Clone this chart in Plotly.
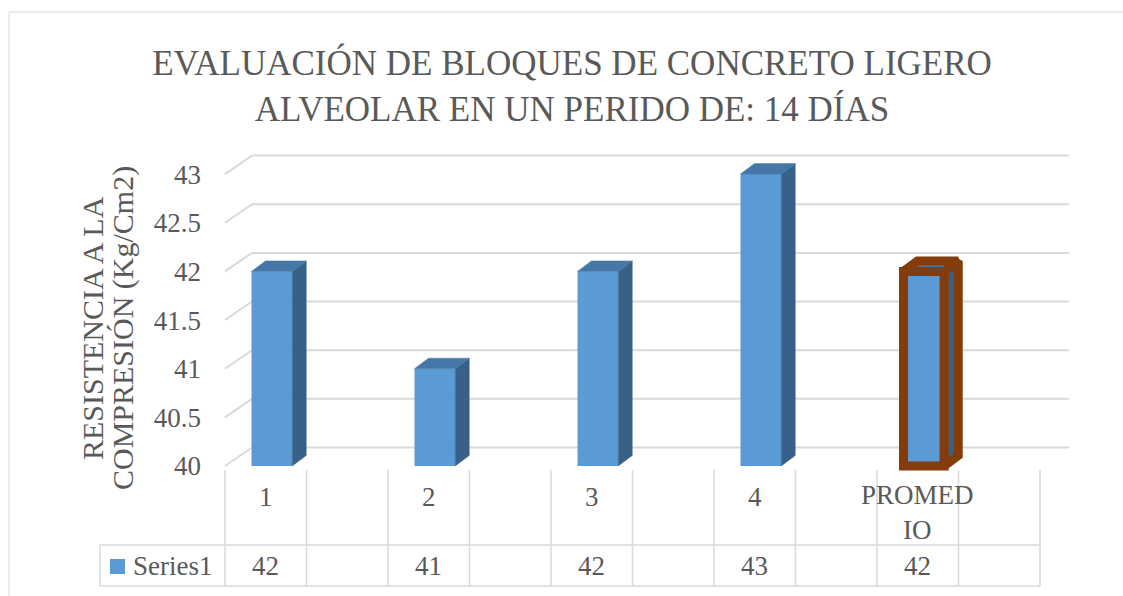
import plotly.graph_objects as go

# ---------------- data ----------------
categories = ["1", "2", "3", "4", "PROMEDIO"]
category_labels = ["1", "2", "3", "4", "PROMED<br>IO"]
values = [42, 41, 42, 43, 42]
series_name = "Series1"
y_ticks = [40, 40.5, 41, 41.5, 42, 42.5, 43]
y_tick_text = ["40", "40.5", "41", "41.5", "42", "42.5", "43"]
title_text = "EVALUACIÓN DE BLOQUES DE CONCRETO LIGERO<br>ALVEOLAR EN UN PERIDO DE: 14 DÍAS"
y_title_lines = ["RESISTENCIA A LA", "COMPRESIÓN (Kg/Cm2)"]

# ---------------- style / geometry ----------------
W, H = 1123, 596
FONT = "Liberation Serif, Times New Roman, serif"
TXT = "#595959"
GRID = "#D9D9D9"
FRONT = "#5B9BD5"
SIDE = "#386189"
TOP = "#4677A9"
BROWN = "#843C0C"

X0_PX, COL_PX = 225, 81.5      # left edge of first table column, column width
Y0_PX, UNIT_PX = 466, 97.3     # pixel of the base value, pixels per unit
DOM_L, DOM_R, DOM_T, DOM_B = 95, 1085, 140, 595
BASE = y_ticks[0]


def u(px):
    return (px - X0_PX) / COL_PX


def v(py):
    return BASE + (Y0_PX - py) / UNIT_PX


def px_x(px):
    return px / W


def px_y(py):
    return 1 - py / H


# 3-D offsets
BACK_DX, BACK_DY = 27 / COL_PX, 18.5 / UNIT_PX
SIDE_DX, SIDE_DY = 14 / COL_PX, 10.5 / UNIT_PX
BAR_W, BAR_OFF = 0.5, -0.175
n_cols = 2 * len(categories)
centers = [2 * i + 0.5 for i in range(len(categories))]

fig = go.Figure()

# front faces
line_w = [0] * (len(values) - 1) + [9]
fig.add_trace(go.Bar(
    x=centers, y=[val - BASE for val in values], base=BASE,
    width=BAR_W, offset=BAR_OFF,
    marker=dict(color=FRONT, line=dict(color=BROWN, width=line_w)),
    showlegend=False, hoverinfo="skip"))

# side and top faces
for i, (c, val) in enumerate(zip(centers, values)):
    x0 = c + BAR_OFF
    x1 = x0 + BAR_W
    lw = line_w[i]
    fig.add_trace(go.Scatter(
        x=[x1, x1 + SIDE_DX, x1 + SIDE_DX, x1, x1],
        y=[BASE, BASE + SIDE_DY, val + SIDE_DY, val, BASE],
        fill="toself", fillcolor=SIDE, mode="lines",
        line=dict(color=BROWN if lw else SIDE, width=lw if lw else 0.5),
        showlegend=False, hoverinfo="skip"))
    fig.add_trace(go.Scatter(
        x=[x0, x0 + SIDE_DX, x1 + SIDE_DX, x1, x0],
        y=[val, val + SIDE_DY, val + SIDE_DY, val, val],
        fill="toself", fillcolor=TOP, mode="lines",
        line=dict(color=BROWN if lw else TOP, width=lw if lw else 0.5),
        showlegend=False, hoverinfo="skip"))

shapes = []
# back-wall gridlines and side-wall diagonals
for t in y_ticks:
    shapes.append(dict(type="line", xref="x", yref="y", layer="below",
                       x0=BACK_DX, x1=u(1069), y0=t + BACK_DY, y1=t + BACK_DY,
                       line=dict(color=GRID, width=2)))
    shapes.append(dict(type="line", xref="x", yref="y", layer="below",
                       x0=0, x1=BACK_DX, y0=t, y1=t + BACK_DY,
                       line=dict(color=GRID, width=2)))

# data table
tbl_top, tbl_mid, tbl_bot = v(470), v(545), v(586)
for k in range(n_cols + 1):
    shapes.append(dict(type="line", xref="x", yref="y",
                       x0=k, x1=k, y0=tbl_top, y1=tbl_bot,
                       line=dict(color=GRID, width=1.5)))
for yy in (tbl_mid, tbl_bot):
    shapes.append(dict(type="line", xref="x", yref="y",
                       x0=u(100), x1=n_cols, y0=yy, y1=yy,
                       line=dict(color=GRID, width=1.5)))
shapes.append(dict(type="line", xref="x", yref="y",
                   x0=u(100), x1=u(100), y0=tbl_mid, y1=tbl_bot,
                   line=dict(color=GRID, width=1.5)))
# legend key
shapes.append(dict(type="rect", xref="x", yref="y",
                   x0=u(110), x1=u(125), y0=v(574), y1=v(559),
                   fillcolor=FRONT, line=dict(width=0)))
# chart border
shapes.append(dict(type="rect", xref="paper", yref="paper",
                   x0=px_x(9), x1=1.02, y0=-0.02, y1=px_y(12),
                   line=dict(color=GRID, width=1)))

annotations = []
for c, lab, val in zip(centers, category_labels, values):
    annotations.append(dict(x=c, y=v(512 if "<br>" in lab else 497), xref="x", yref="y",
                            text=lab, showarrow=False, xanchor="center", yanchor="middle",
                            font=dict(family=FONT, size=27, color=TXT)))
    annotations.append(dict(x=c, y=v(566), xref="x", yref="y",
                            text=f"{val:g}", showarrow=False, xanchor="center", yanchor="middle",
                            font=dict(family=FONT, size=27, color=TXT)))
annotations.append(dict(x=u(131), y=v(566), xref="x", yref="y", text=series_name,
                        showarrow=False, xanchor="left", yanchor="middle",
                        font=dict(family=FONT, size=27, color=TXT)))
for xpx, line in zip((92, 123), y_title_lines):
    annotations.append(dict(x=px_x(xpx), y=px_y(328), xref="paper", yref="paper",
                            text=line, textangle=-90, showarrow=False,
                            xanchor="center", yanchor="middle",
                            font=dict(family=FONT, size=30, color=TXT)))

fig.update_layout(
    width=W, height=H,
    margin=dict(l=0, r=0, t=0, b=0),
    paper_bgcolor="white", plot_bgcolor="rgba(0,0,0,0)",
    title=dict(text=title_text, x=px_x(572), xanchor="center", y=px_y(75), yanchor="middle",
               font=dict(family=FONT, size=35, color=TXT)),
    xaxis=dict(domain=[px_x(DOM_L), px_x(DOM_R)], range=[u(DOM_L), u(DOM_R)],
               visible=False, fixedrange=True),
    yaxis=dict(domain=[px_y(DOM_B), px_y(DOM_T)], range=[v(DOM_B), v(DOM_T)],
               anchor="free", position=px_x(223),
               tickvals=y_ticks, ticktext=y_tick_text, showgrid=False, zeroline=False,
               showline=False, ticks="", ticklabelstandoff=22,
               tickfont=dict(family=FONT, size=27, color=TXT), fixedrange=True),
    shapes=shapes, annotations=annotations, showlegend=False,
)

fig.write_html("out.html")
